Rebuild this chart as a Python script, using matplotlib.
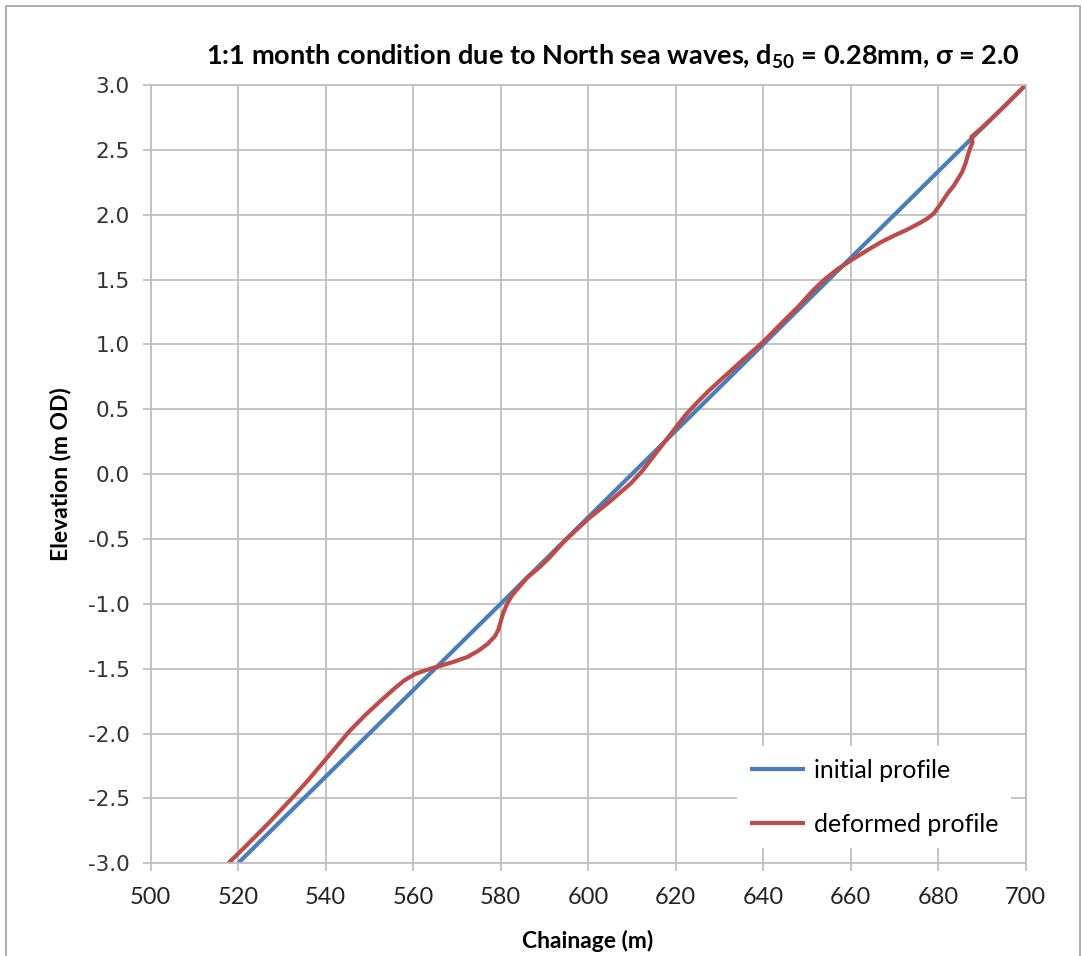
import matplotlib.pyplot as plt
from matplotlib.patches import Rectangle

plt.rcParams['mathtext.default'] = 'regular'

# initial profile (straight slope)
init_x = [520, 700]
init_y = [-3.0, 3.0]

# deformed profile
def_x = [517.8, 522, 527, 532, 536, 539.5, 542.5, 545.5, 549, 552.5, 555.5, 558,
         560.5, 563, 566, 569, 572.4, 575, 577, 578.7, 579.5, 580, 580.6, 581.5,
         582.5, 584, 586, 588.5, 591, 594.5, 597, 600.2, 605, 609.8, 612.5, 615,
         618, 620.5, 622.5, 625, 627.5, 630.4, 635, 640, 645, 648, 651.5, 654,
         657, 660.6, 664, 667, 670, 673.2, 676, 677.5, 679, 680.5, 682.3, 683.5,
         684.6, 685.5, 686.3, 686.9, 687.4, 687.9, 687.6, 690, 695, 700]
def_y = [-3.0, -2.86, -2.69, -2.51, -2.36, -2.22, -2.10, -1.98, -1.86, -1.75, -1.66, -1.59,
         -1.54, -1.51, -1.48, -1.45, -1.41, -1.36, -1.31, -1.25, -1.20, -1.14, -1.07, -1.00,
         -0.94, -0.88, -0.80, -0.73, -0.65, -0.52, -0.44, -0.34, -0.21, -0.07, 0.03, 0.14,
         0.27, 0.38, 0.465, 0.555, 0.64, 0.73, 0.87, 1.02, 1.19, 1.29, 1.42, 1.50,
         1.58, 1.66, 1.73, 1.79, 1.84, 1.89, 1.94, 1.97, 2.01, 2.08, 2.17, 2.22,
         2.28, 2.33, 2.40, 2.47, 2.52, 2.56, 2.60, 2.67, 2.83, 3.0]

x_ticks = list(range(500, 701, 20))
y_ticks = [-3.0, -2.5, -2.0, -1.5, -1.0, -0.5, 0.0, 0.5, 1.0, 1.5, 2.0, 2.5, 3.0]

calib = ['Lato', 'DejaVu Sans']
grid_c = '#bfbfbf'

fig = plt.figure(figsize=(10.83, 9.56), dpi=100)
ax = fig.add_axes([0.139, 0.097, 0.808, 0.814])

ax.plot(init_x, init_y, color='#4a7ebb', lw=3.0, label='initial profile', solid_capstyle='butt')
ax.plot(def_x, def_y, color='#be4b48', lw=3.0, label='deformed profile',
        solid_capstyle='butt', solid_joinstyle='round')

ax.set_xlim(500, 700)
ax.set_ylim(-3, 3)
ax.set_xticks(x_ticks)
ax.set_yticks(y_ticks)
ax.set_yticklabels([f'{v:.1f}' for v in y_ticks], fontsize=15.5, color='#333333')
ax.set_xticklabels([str(v) for v in x_ticks], fontsize=17, family=calib, color='#222222')
ax.grid(True, color=grid_c, lw=1.3)
ax.set_axisbelow(True)
ax.tick_params(length=6, width=1.3, color=grid_c)
ax.tick_params(axis='y', pad=9)
ax.tick_params(axis='x', pad=11)
for s in ax.spines.values():
    s.set_color(grid_c)
    s.set_linewidth(1.3)

ax.set_xlabel('Chainage (m)', fontsize=16.5, fontweight='bold', family=calib, labelpad=16)
ax.set_ylabel('Elevation (m OD)', fontsize=16.5, fontweight='bold', family=calib, labelpad=12)

fig.text(0.942, 0.94, '1:1 month condition due to North sea waves, d$_{50}$ = 0.28mm, \u03c3 = 2.0',
         ha='right', va='center', fontsize=19.5, fontweight='bold', family=calib)

leg = ax.legend(loc='lower right', frameon=True, framealpha=1,
                edgecolor='white', handlelength=2.2, labelspacing=1.25,
                borderaxespad=0.6, borderpad=0.5, handletextpad=0.35,
                prop={'family': calib, 'size': 18})
leg.get_frame().set_linewidth(0)

fig.patches.append(Rectangle((0.006, -0.01), 0.991, 1.004, transform=fig.transFigure,
                             fill=False, edgecolor='#a0a0a0', lw=1.2))

fig.savefig('out.png', dpi=100)
